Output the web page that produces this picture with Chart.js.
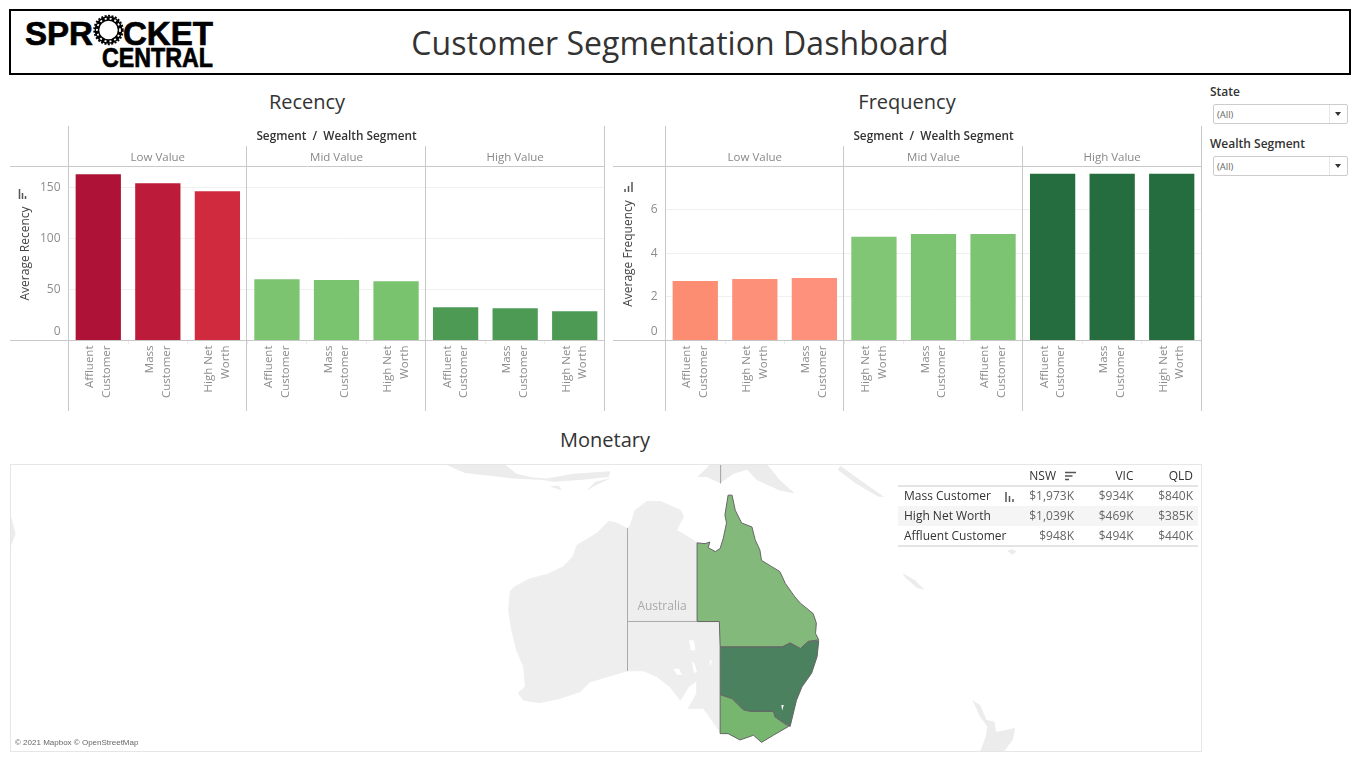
<!DOCTYPE html>
<html>
<head>
<meta charset="utf-8">
<title>Customer Segmentation Dashboard</title>
<script src="https://cdn.jsdelivr.net/npm/chart.js@4"></script>
<style>
  html, body { margin:0; padding:0; background:#fff; }
  body { width:1360px; height:759px; position:relative; overflow:hidden; font-family:"Open Sans",sans-serif; }
  canvas, .abs { position:absolute; }
  #banner { left:9px; top:9px; width:1338px; height:62px; border:2px solid #000; }
  #bigTitle { left:0; width:1360px; top:21px; text-align:center; font-size:32px; font-weight:500; line-height:44px; color:#333; letter-spacing:0.05px; }
  .secTitle { font-size:20px; font-weight:500; line-height:26px; color:#333; text-align:center; width:300px; }
  .filterName { font-size:12px; line-height:16px; color:#333; font-weight:600; }
  .filterBox { left:1213px; width:133px; height:18px; border:1px solid #ccc; border-radius:2px; font-size:9.5px; line-height:19px; color:#666; text-indent:3px; }
  .filterBox b { position:absolute; right:0; top:0; width:17px; height:18px; border-left:1px solid #e6e6e6; }
  .filterBox b::after { content:""; position:absolute; left:5px; top:7px; border:3.5px solid transparent; border-top:4.5px solid #333; border-bottom:0; }
  #mapFrame { left:10px; top:464px; width:1190px; height:286px; border:1px solid #e6e6e6; }
  #mapName { left:612px; width:100px; top:597px; text-align:center; font-size:12px; line-height:18px; color:#a8a8a8; }
  #mapCredit { left:15px; top:738px; font:8px/10px "Liberation Sans",sans-serif; color:#666; }
</style>
</head>
<body>
<div id="banner" class="abs"></div>
<svg class="abs" style="left:0;top:0" width="230" height="74" font-family="Liberation Sans" font-weight="700" fill="#000" stroke="#000" stroke-width="0.7">
  <text x="25" y="45" font-size="33" textLength="68" lengthAdjust="spacingAndGlyphs">SPR</text>
  <text x="123" y="45" font-size="33" textLength="90" lengthAdjust="spacingAndGlyphs">CKET</text>
  <text x="102" y="67" font-size="27" textLength="111" lengthAdjust="spacingAndGlyphs">CENTRAL</text>
  <g fill="none">
    <circle cx="108.500" cy="30" r="11.500" stroke-width="4.500"/>
    <circle cx="108.500" cy="30" r="14.300" stroke-width="1.800" stroke-dasharray="2 1.500"/>
    <circle cx="108.500" cy="30" r="11.500" stroke="#fff" stroke-width="1.800" stroke-dasharray="2 3"/>
  </g>
</svg>
<div id="bigTitle" class="abs">Customer Segmentation Dashboard</div>

<div class="abs secTitle" style="left:157px;top:89px">Recency</div>
<div class="abs secTitle" style="left:757px;top:89px">Frequency</div>
<div class="abs secTitle" style="left:455px;top:427px">Monetary</div>

<div class="abs filterName" style="left:1210px;top:84px">State</div>
<div class="abs filterBox" style="top:104px">(All)<b></b></div>
<div class="abs filterName" style="left:1210px;top:136px">Wealth Segment</div>
<div class="abs filterBox" style="top:156px">(All)<b></b></div>

<canvas id="chartRecency" width="595" height="285" style="left:10px;top:126px"></canvas>
<canvas id="chartFrequency" width="589" height="285" style="left:613px;top:126px"></canvas>

<canvas id="chartMap" width="1192" height="288" style="left:10px;top:464px"></canvas>
<div id="mapFrame" class="abs"></div>
<div id="mapName" class="abs">Australia</div>
<div id="mapCredit" class="abs">© 2021 Mapbox © OpenStreetMap</div>
<canvas id="chartTable" width="302" height="84" style="left:898px;top:467px"></canvas>

<svg class="abs" style="left:0;top:0;pointer-events:none" width="1360" height="759" stroke="#555" stroke-width="1.500" fill="none">
  <path d="M19.500 189v10M22.500 193v6M25.500 196v3"/>
  <path d="M625 189v3M628.500 186v6M632 182v10"/>
  <path d="M1006 492v10M1009.500 496v6M1013 499v3"/>
  <path d="M1065 472.500h11M1065 476h7.500M1065 479.500h4"/>
</svg>

<script>
// ── Recency ──
const recencyLabels = [['Affluent','Customer'],['Mass','Customer'],['High Net','Worth'],
                       ['Affluent','Customer'],['Mass','Customer'],['High Net','Worth'],
                       ['Affluent','Customer'],['Mass','Customer'],['High Net','Worth']];
const recencyValues = [163, 154.2, 146.4, 60.1, 59.2, 58.2, 32.7, 31.7, 28.8];
const recencyColors = ['#ae1237','#bc1b3a','#d02a3f','#7dc471','#7ac36f','#79c26e','#4c9a54','#4c9a54','#4c9a54'];
const recencyTicks  = [0, 50, 100, 150];

// ── Frequency ──
const frequencyLabels = [['Affluent','Customer'],['High Net','Worth'],['Mass','Customer'],
                         ['High Net','Worth'],['Mass','Customer'],['Affluent','Customer'],
                         ['Affluent','Customer'],['Mass','Customer'],['High Net','Worth']];
const frequencyValues = [2.72, 2.82, 2.86, 4.75, 4.88, 4.88, 7.64, 7.64, 7.64];
const frequencyColors = ['#fc8d72','#fd9079','#fd917b','#80c674','#7cc372','#7cc372','#256c3f','#256c3f','#256c3f'];
const frequencyTicks  = [0, 2, 4, 6];

const segmentNames = ['Low Value','Mid Value','High Value'];

// ── Monetary table ($K) ──
const stateNames   = ['NSW','VIC','QLD'];
const wealthNames  = ['Mass Customer','High Net Worth','Affluent Customer'];
const massValues     = [1973, 934, 840];
const highNetValues  = [1039, 469, 385];
const affluentValues = [948, 494, 440];

// ── Map outlines: [longitude, mercator northing] ──
const mainlandOutline = [[129.3,-15.3],[128,-14.6],[127,-14.4],[125.5,-15.9],[124.2,-16.7],[123,-17.4],[122.5,-18.8],[121.3,-20.1],[119.2,-21.1],[117.1,-21.6],[115.2,-22.6],[114.6,-23.2],[114.4,-25.6],[114.8,-28.1],[115.4,-30.6],[116.3,-32.7],[116.5,-35.2],[115.6,-36],[116.3,-36.9],[118.2,-37.2],[120.7,-36.7],[123.4,-35.8],[124.6,-34.6],[127.6,-33.7],[129.3,-33.2],[131.4,-33.2],[133,-33.9],[134.7,-35.2],[136,-36.9],[137,-35.2],[138.1,-34.4],[138.1,-36],[137,-37.9],[138.9,-37.9],[139.7,-39],[141,-40.9],[140.9,-27],[138.1,-27],[138.1,-17.1],[137.2,-16.5],[135.5,-15.5],[136.4,-13.8],[136,-13],[133.5,-11.9],[131.8,-11.9],[130.3,-13],[129.7,-14.9]];
const qldOutline = [[138.1,-17.1],[139.1,-17.2],[139.7,-17],[139.5,-17.7],[140.4,-18.2],[141,-17.8],[141.4,-16.5],[141.8,-14.6],[141.6,-13.6],[142,-11.1],[142.5,-11.1],[142.9,-13],[143.7,-14.6],[145,-15.1],[145.4,-16.7],[146,-18],[146.2,-19.3],[147.5,-20.1],[148.5,-20.7],[149.2,-22.2],[150.4,-23.9],[151.1,-24.7],[152.7,-26],[153.1,-27.2],[153,-28.5],[153.4,-29.3],[152.1,-29.5],[151.1,-30.4],[149.8,-29.7],[148.8,-30.2],[141,-30.2],[140.9,-27],[138.1,-27]];
const nswOutline = [[141,-30.2],[148.8,-30.2],[149.8,-29.7],[151.1,-30.4],[152.1,-29.5],[153.4,-29.4],[153.2,-31.4],[152.5,-33.5],[151.3,-35.2],[150.6,-36.9],[149.8,-40.2],[147.9,-39],[147.7,-38.3],[144.8,-38.3],[143.9,-38.1],[142.5,-36.7],[141,-36.2]];
const vicOutline = [[141,-36.2],[142.5,-36.7],[143.9,-38.1],[144.8,-38.3],[147.7,-38.3],[147.9,-39],[149.6,-40.2],[147.7,-41.3],[146.2,-42.2],[145.2,-41.3],[143.5,-41.9],[142,-41.1],[141,-41.1]];
const landOutlines = [
  [[138.1,-8.8],[139.3,-7.7],[139.7,-7.2],[146.9,-7.2],[148.5,-9.2],[150.4,-10.9],[148.5,-10.5],[145.6,-9.2],[144.4,-7.9],[142.7,-8.4],[141,-9.6],[139.3,-8.8]],
  [[106.4,-7.2],[113.9,-7.2],[115.4,-8.4],[118.8,-9.2],[115,-9],[111.4,-8.6],[108.9,-8.3]],
  [[116.7,-8.8],[119.2,-9],[122.5,-8.4],[127.2,-8.1],[127,-8.8],[123.4,-9.2],[120,-9.4]],
  [[124.2,-10.5],[125.3,-9.4],[127.4,-8.9],[125.5,-9.8]],
  [[119.6,-10],[121.1,-10.5],[120.7,-9.9]],
  [[51.7,-13.3],[52.4,-16],[51.8,-17.5],[51.7,-16.5]],
  [[163.9,-20.9],[164.3,-21.5],[165.8,-22.8],[166.7,-23],[165.5,-21.8]],
  [[177.1,-18.1],[177.7,-17.9],[178.3,-18.2],[177.7,-18.6]],
  [[172.7,-36.9],[173.7,-37.5],[174.5,-39.4],[175.5,-39.6],[175.7,-40.9],[178.1,-40.4],[177.8,-41.9],[176.7,-43.3],[173.7,-43.3],[174.4,-41.5],[174.6,-40.2],[173.7,-39],[173.1,-37.7]],
  [[156.1,-7.4],[158.6,-9.2],[161.6,-11.3],[160.9,-11.3],[158,-9.6],[155.8,-7.9]]
];
const lakeOutlines = [
  [[137.1,-29.3],[137.7,-29.4],[137.9,-30.6],[137.3,-30.6]],
  [[137.4,-31.9],[137.8,-32.3],[138.1,-33.4],[137.7,-33.4]],
  [[135.1,-33],[135.8,-32.9],[136.2,-33.7],[135.6,-33.7]],
  [[139.7,-31.9],[140,-31.9],[139.7,-32.7]],
  [[148.7,-37.5],[149,-37.5],[148.8,-38.2]]
];
const borderLines = [
  [[129.35,-15.3],[129.35,-33.2]],
  [[129.35,-26.99],[138.1,-26.99]],
  [[141.05,-7.2],[141.05,-9.6]]
];

Chart.defaults.animation = false;
Chart.defaults.events = [];
Chart.defaults.plugins.legend.display = false;
Chart.defaults.plugins.tooltip.enabled = false;
Chart.defaults.font.family = '"Open Sans", sans-serif';

const RULE = '#c8c8c8';

// rules round the panes, taken from the x scale
const paneRules = {
  id: 'paneRules',
  afterDraw(chart) {
    const { ctx, chartArea: a, scales: { x } } = chart;
    const cell = (a.right - a.left) / x.ticks.length;
    const H = chart.height;
    ctx.save();
    ctx.strokeStyle = RULE;
    ctx.lineWidth = 1;
    ctx.beginPath();
    ctx.moveTo(0, a.top); ctx.lineTo(a.right, a.top);
    ctx.moveTo(0, a.bottom); ctx.lineTo(a.right, a.bottom);
    ctx.moveTo(a.left, 0); ctx.lineTo(a.left, H);
    ctx.moveTo(a.right, 0); ctx.lineTo(a.right, H);
    [3, 6].forEach(i => {
      const px = Math.round(a.left + cell * i) - 0.5;
      ctx.moveTo(px, 20); ctx.lineTo(px, H);
    });
    ctx.stroke();
    ctx.restore();
  }
};

function noMargins(s) {
  s.paddingLeft = s.paddingRight = s.paddingTop = s.paddingBottom = 0;
}

function panelChart(id, labels, values, colors, ticks, yMax, yTitle, yWidth) {
  return new Chart(document.getElementById(id), {
    type: 'bar',
    data: { labels, datasets: [{ data: values, backgroundColor: colors, barPercentage: 0.76, categoryPercentage: 1 }] },
    options: {
      responsive: false,
      layout: { padding: { right: 0.5 } },
      scales: {
        x: {
          afterFit: s => { s.height = 70.5; noMargins(s); },
          border: { display: false },
          grid: { offset: true, drawOnChartArea: false, color: '#ececec', tickLength: 4 },
          ticks: { autoSkip: false, minRotation: 90, maxRotation: 90, padding: 1, labelOffset: -8.2,
                   color: '#8c8c8c', font: { size: 11.5, lineHeight: 1.45 } }
        },
        xTop: {
          type: 'category', position: 'top', labels: segmentNames, offset: true, display: true,
          afterFit: s => { s.height = 40.5; noMargins(s); },
          border: { display: false }, grid: { display: false, drawTicks: false, tickLength: 0 },
          title: { display: true, text: 'Segment  /  Wealth Segment', color: '#333',
                   font: { size: 11.8, weight: '600' }, padding: { top: 4, bottom: 0 } },
          ticks: { padding: 2, color: '#888', font: { size: 11.5 } }
        },
        y: {
          min: 0, max: yMax,
          afterFit: s => { s.width = yWidth; noMargins(s); },
          afterBuildTicks: s => { s.ticks = ticks.map(v => ({ value: v })); },
          border: { display: false },
          grid: { color: c => c.tick.value === 0 ? 'transparent' : '#f0f0f0', drawTicks: false },
          title: { display: true, text: yTitle, color: '#444', font: { size: 12 }, padding: { top: 8, bottom: 0 } },
          ticks: { padding: 8, color: '#8c8c8c', font: { size: 12, lineHeight: 1.42 },
                   callback: v => v === 0 ? ['0', ''] : v }
        }
      }
    },
    plugins: [paneRules]
  });
}

panelChart('chartRecency', recencyLabels, recencyValues, recencyColors, recencyTicks, 170.6, 'Average Recency', 58.5);
panelChart('chartFrequency', frequencyLabels, frequencyValues, frequencyColors, frequencyTicks, 7.97, 'Average Frequency', 52.5);

// ── Map: polygons on hidden linear scales ──
const polygonFill = {
  id: 'polygonFill',
  beforeDatasetDraw(chart, { meta, index }) {
    const color = chart.data.datasets[index].backgroundColor;
    if (!color) return;
    const ctx = chart.ctx;
    ctx.save();
    ctx.beginPath();
    meta.dataset.path(ctx);
    ctx.closePath();
    ctx.fillStyle = color;
    ctx.fill();
    ctx.restore();
  }
};

const toPoints = list => list.map(p => ({ x: p[0], y: p[1] }));
const area = (list, backgroundColor, borderColor, borderWidth) => ({
  data: toPoints([...list, list[0]]), backgroundColor, borderColor, borderWidth,
  showLine: true, pointRadius: 0, fill: false
});
const rule = list => ({ data: toPoints(list), borderColor: '#aaaaaa', borderWidth: 1, showLine: true, pointRadius: 0, fill: false });

new Chart(document.getElementById('chartMap'), {
  type: 'scatter',
  data: { datasets: [
    ...lakeOutlines.map(l => area(l, '#ffffff', '#ffffff', 0)),
    ...borderLines.map(rule),
    area(vicOutline, '#77b66f', '#666666', 1),
    area(nswOutline, '#4b815e', '#666666', 1),
    area(qldOutline, '#83b97b', '#666666', 1),
    area(mainlandOutline, '#eeeeee', '#eeeeee', 1),
    ...landOutlines.map(l => area(l, '#ececec', '#ececec', 0))
  ] },
  options: {
    responsive: false,
    layout: { padding: 0 },
    scales: {
      x: { type: 'linear', display: false, min: 51.69, max: 201.6 },
      y: { type: 'linear', display: false, min: -43.41, max: -7.18 }
    }
  },
  plugins: [polygonFill]
});

// ── Text table of monetary values ──
const tablePoints = [];
[massValues, highNetValues, affluentValues].forEach((row, r) => {
  row.forEach((v, c) => tablePoints.push({ x: stateNames[c], y: wealthNames[r], v }));
});

const tableCells = {
  id: 'tableCells',
  beforeDraw(chart) {
    const { ctx, chartArea: a, scales: { y } } = chart;
    const h = (a.bottom - a.top) / wealthNames.length;
    ctx.fillStyle = '#f5f5f5';
    ctx.fillRect(0, y.getPixelForValue(1) - h / 2 - 1, 300, h);
  },
  afterDatasetsDraw(chart) {
    const { ctx, chartArea: a } = chart;
    const meta = chart.getDatasetMeta(0);
    ctx.save();
    ctx.font = '12px "Open Sans", sans-serif';
    ctx.fillStyle = '#666';
    ctx.textAlign = 'right';
    ctx.textBaseline = 'middle';
    meta.data.forEach((el, i) => {
      ctx.fillText('$' + tablePoints[i].v.toLocaleString('en-US') + 'K', el.x, el.y);
    });
    ctx.strokeStyle = RULE;
    ctx.lineWidth = 1;
    ctx.beginPath();
    ctx.moveTo(0, a.top - 1); ctx.lineTo(300, a.top - 1);
    ctx.moveTo(0, a.bottom - 1); ctx.lineTo(300, a.bottom - 1);
    ctx.stroke();
    ctx.restore();
  }
};

new Chart(document.getElementById('chartTable'), {
  type: 'scatter',
  data: { datasets: [{ data: tablePoints, pointRadius: 0 }] },
  options: {
    responsive: false,
    layout: { padding: { left: 6, right: 7, bottom: 4 } },
    scales: {
      x: {
        type: 'category', position: 'top', labels: stateNames, offset: false,
        afterFit: s => { s.height = 20; noMargins(s); },
        border: { display: false }, grid: { display: false, drawTicks: false, tickLength: 0 },
        ticks: { align: 'end', padding: 3, color: '#333', font: { size: 12, weight: '500' },
                 callback: (v, i) => i === 0 ? stateNames[i] + '\u2003\u2002' : stateNames[i] }
      },
      y: {
        type: 'category', labels: wealthNames, offset: true,
        afterFit: s => { s.width = 170; noMargins(s); },
        border: { display: false }, grid: { display: false, drawTicks: false, tickLength: 0 },
        ticks: { crossAlign: 'far', color: '#333', font: { size: 12, weight: '500' } }
      }
    }
  },
  plugins: [tableCells]
});
</script>
</body>
</html>
